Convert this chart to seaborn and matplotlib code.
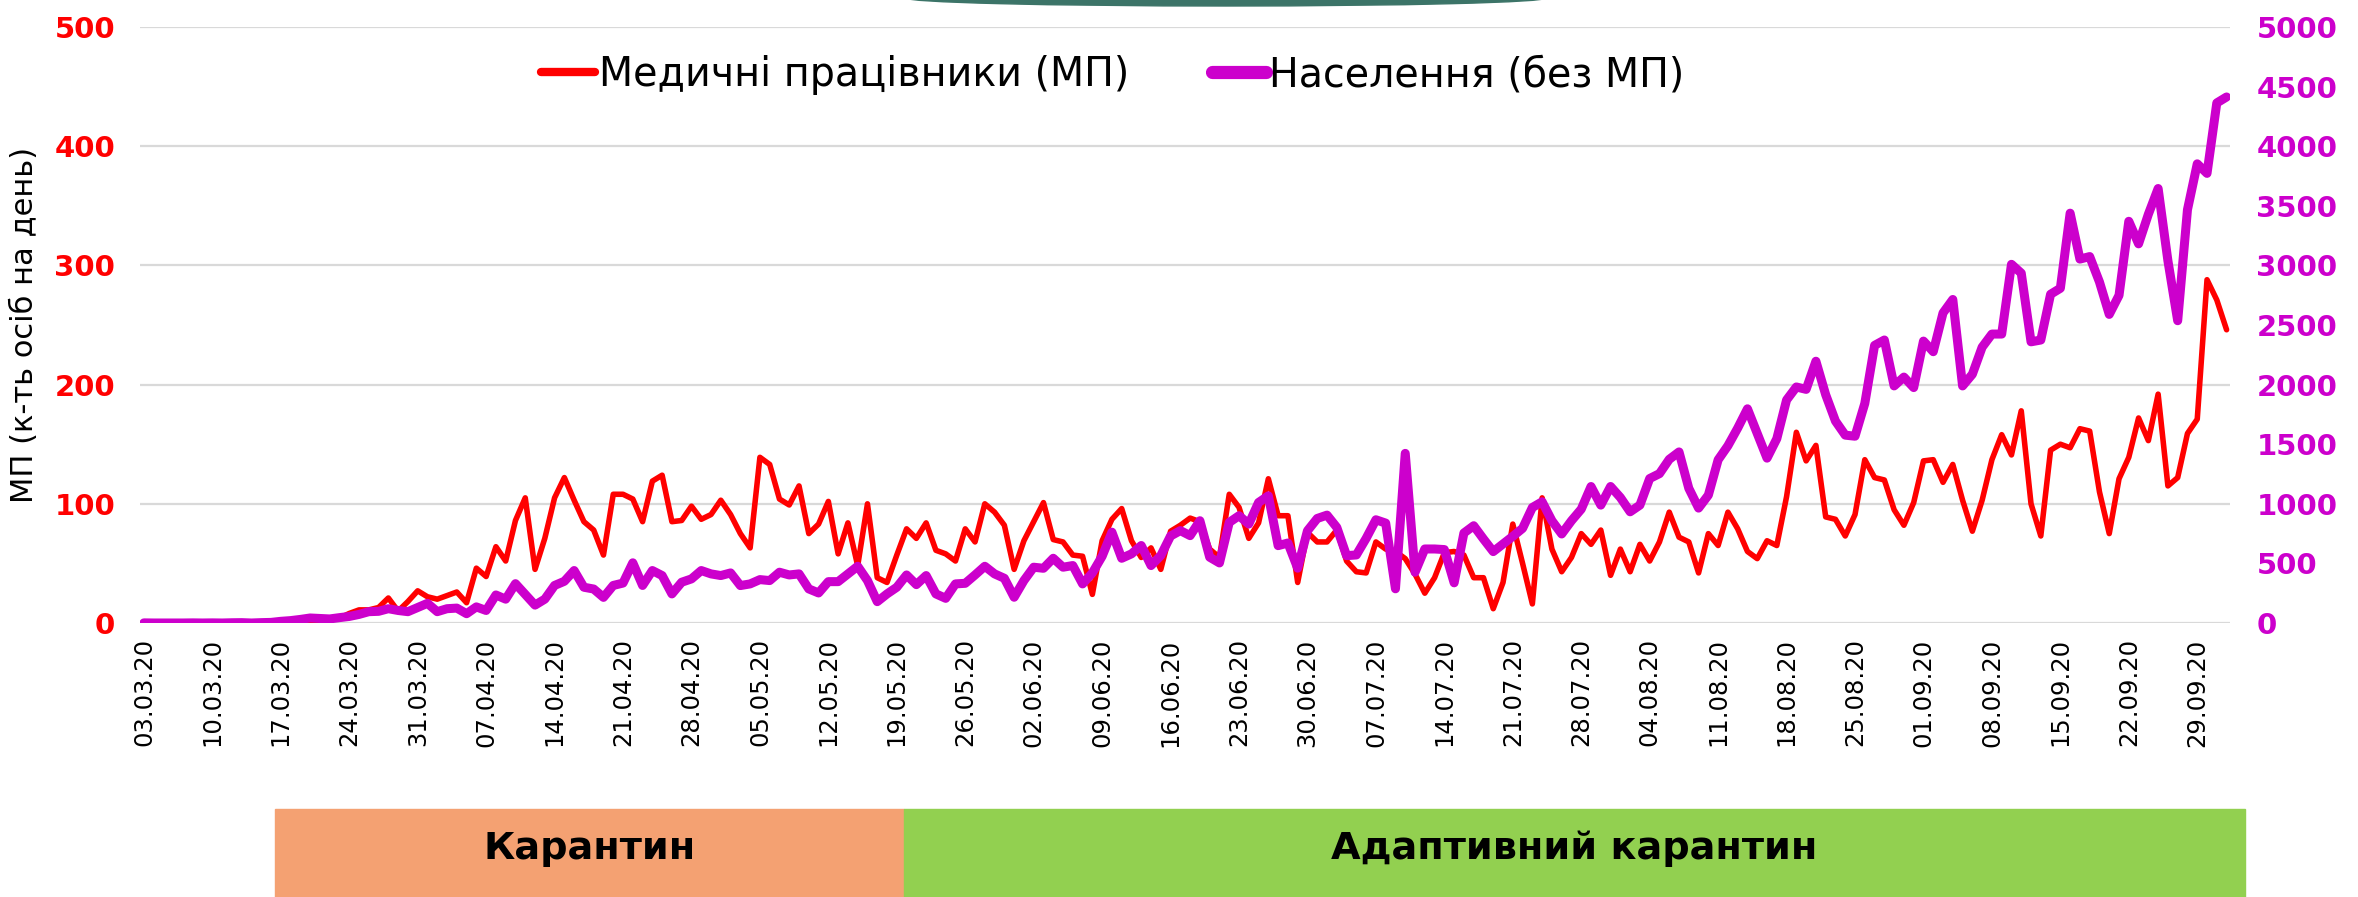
import numpy as np
import pandas as pd
import matplotlib
matplotlib.use('Agg')
import matplotlib.pyplot as plt
import seaborn as sns
from matplotlib.lines import Line2D
from matplotlib.patches import Rectangle, Ellipse

# ---------------- data ----------------
start_date = '2020-03-03'

mp = [
    0, 0, 0, 0, 0, 0, 0, 0, 0, 0,
    0, 0, 0, 0, 1, 0, 1, 2, 2, 3,
    4, 8, 11, 11, 13, 21, 10, 18, 27, 22,
    20, 23, 26, 17, 46, 39, 64, 52, 86, 105,
    45, 71, 105, 122, 103, 85, 78, 57, 108, 108,
    104, 85, 119, 124, 85, 86, 98, 87, 91, 103,
    91, 75, 63, 139, 133, 104, 99, 115, 75, 83,
    102, 58, 84, 48, 100, 38, 34, 57, 79, 71,
    84, 61, 58, 52, 79, 68, 100, 93, 82, 45,
    69, 85, 101, 70, 68, 57, 56, 24, 69, 87,
    96, 69, 55, 63, 45, 77, 82, 88, 85, 62,
    55, 108, 97, 71, 84, 121, 90, 90, 34, 76,
    68, 68, 78, 52, 43, 42, 68, 62, 60, 54,
    41, 25, 38, 59, 60, 57, 38, 38, 12, 34,
    83, 50, 16, 105, 62, 43, 55, 75, 66, 78,
    40, 62, 43, 66, 52, 68, 93, 72, 68, 42,
    75, 65, 93, 79, 60, 54, 69, 65, 106, 160,
    136, 149, 89, 87, 73, 91, 137, 122, 120, 95,
    82, 101, 136, 137, 118, 133, 103, 77, 103, 137,
    158, 141, 178, 100, 73, 145, 150, 147, 163, 161,
    110, 75, 121, 139, 172, 153, 192, 115, 122, 159,
    171, 288, 271, 246,
]

pop = [
    1, 0, 0, 0, 0, 1, 0, 1, 0, 2,
    3, 0, 3, 5, 14, 20, 30, 42, 38, 34,
    45, 55, 72, 95, 98, 120, 105, 95, 130, 165,
    95, 120, 125, 78, 135, 105, 235, 200, 330, 240,
    150, 200, 315, 350, 440, 300, 285, 215, 315, 335,
    505, 315, 440, 398, 244, 342, 370, 440, 412, 398,
    420, 314, 328, 364, 356, 426, 403, 412, 286, 252,
    347, 347, 412, 476, 356, 179, 244, 300, 403, 322,
    398, 244, 207, 328, 333, 403, 476, 412, 375, 216,
    356, 468, 459, 543, 468, 482, 328, 420, 560, 762,
    543, 580, 650, 482, 566, 730, 775, 733, 858, 552,
    504, 844, 900, 830, 1011, 1067, 649, 671, 460, 774,
    877, 905, 802, 565, 571, 710, 866, 838, 287, 1423,
    426, 621, 621, 616, 337, 755, 816, 705, 599, 663,
    727, 794, 969, 1017, 858, 747, 858, 955, 1145, 989,
    1145, 1053, 933, 989, 1212, 1253, 1373, 1435, 1130, 964,
    1073, 1369, 1487, 1635, 1797, 1590, 1383, 1546, 1871, 1980,
    1960, 2196, 1915, 1694, 1576, 1567, 1842, 2329, 2374, 1989,
    2063, 1975, 2365, 2276, 2601, 2714, 1989, 2087, 2314, 2424,
    2424, 3009, 2935, 2359, 2374, 2758, 2808, 3438, 3053, 3074,
    2861, 2589, 2749, 3370, 3181, 3429, 3645, 3039, 2536, 3467,
    3852, 3772, 4363, 4413,
]

series_names = ['Медичні працівники (МП)', 'Населення (без МП)']
ylabel_text = 'МП (к-ть осіб на день)'
left_ticks = [0, 100, 200, 300, 400, 500]
right_ticks = [0, 500, 1000, 1500, 2000, 2500, 3000, 3500, 4000, 4500, 5000]
phase_labels = ['Карантин', 'Адаптивний карантин']

assert len(mp) == len(pop)
dates = pd.date_range(start_date, periods=len(mp), freq='D')
day = np.arange(len(mp))
df = pd.DataFrame({'day': day, 'mp': mp, 'pop': pop})
tick_pos = day[::7]
tick_labels = [d.strftime('%d.%m.%y') for d in dates[::7]]

# ---------------- styling ----------------
sns.set_style('white')
plt.rcParams['font.family'] = ['DejaVu Sans']
plt.rcParams['text.color'] = 'black'

RED = '#FF0000'
MAG = '#CC00CC'
GRID = '#D9D9D9'

W, H = 2358, 897
fig = plt.figure(figsize=(W / 100, H / 100), dpi=100)
fig.patch.set_facecolor('white')

ax = fig.add_axes([140 / W, 1 - 623 / H, 2090 / W, 596 / H])
ax2 = ax.twinx()

sns.lineplot(data=df, x='day', y='mp', ax=ax, color=RED, linewidth=4.0,
             solid_joinstyle='round', solid_capstyle='round')
sns.lineplot(data=df, x='day', y='pop', ax=ax2, color=MAG, linewidth=6.5,
             solid_joinstyle='round', solid_capstyle='round')

ax.set_xlim(-0.4, len(mp) - 1 + 0.35)
ax.set_ylim(0, 500)
ax2.set_ylim(0, 5000)

for a in (ax, ax2):
    for s in a.spines.values():
        s.set_visible(False)
    a.set_xlabel('')
    a.set_ylabel('')

ax.yaxis.grid(True, color=GRID, linewidth=1.6)
ax.xaxis.grid(False)
ax2.grid(False)
ax.set_axisbelow(True)

ax.set_yticks(left_ticks)
ax.set_yticklabels([str(t) for t in left_ticks], fontsize=21, fontweight='bold', color=RED)
ax.tick_params(axis='y', length=0, pad=18)

ax2.set_yticks(right_ticks)
ax2.set_yticklabels([str(t) for t in right_ticks], fontsize=21, fontweight='bold', color=MAG)
ax2.tick_params(axis='y', length=0, pad=19)

ax.set_xticks(tick_pos)
ax.set_xticklabels(tick_labels, rotation=90, fontsize=17.5, color='black')
ax.tick_params(axis='x', length=0, pad=11)

ax.set_ylabel(ylabel_text, fontsize=22, color='black', va='center')
ax.yaxis.set_label_coords(-0.0555, 0.5)

# legend
handles = [Line2D([0], [0], color=RED, lw=6, solid_capstyle='round'),
           Line2D([0], [0], color=MAG, lw=9.5, solid_capstyle='round')]
leg = fig.legend(handles, series_names, loc='center', bbox_to_anchor=(1113 / W, 1 - 75 / H),
                 ncol=2, frameon=False, fontsize=28.5, handlelength=1.35,
                 handletextpad=0.1, columnspacing=2.1)
for t in leg.get_texts():
    t.set_color('black')

# slide decoration at top
fig.add_artist(Ellipse((1226 / W, 1 + 2 / H), 640 / W, 16 / H,
                       transform=fig.transFigure, color='#3C7468', zorder=0))

# phase boxes
box_h = (H - 809) / H
fig.add_artist(Rectangle((275 / W, 0), (904 - 275) / W, box_h,
                         transform=fig.transFigure, color='#F4A172', zorder=0))
fig.add_artist(Rectangle((904 / W, 0), (2245 - 904) / W, box_h,
                         transform=fig.transFigure, color='#92D050', zorder=0))
fig.text(589.5 / W, 1 - 849 / H, phase_labels[0], ha='center', va='center',
         fontsize=27.5, fontweight='bold', color='black')
fig.text(1574 / W, 1 - 849 / H, phase_labels[1], ha='center', va='center',
         fontsize=27.5, fontweight='bold', color='black')

fig.savefig('out.png', dpi=100, facecolor='white')
